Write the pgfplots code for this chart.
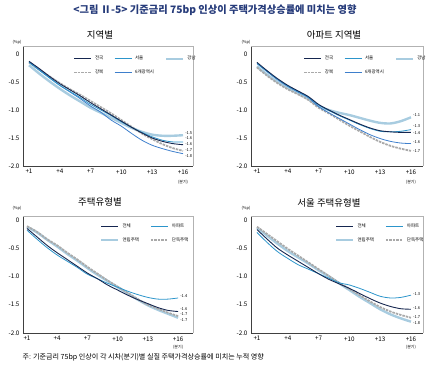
\documentclass[border=0pt]{standalone}
\usepackage{fontspec}
\setmainfont{Noto Sans CJK KR}
\usepackage{pgfplots}
\pgfplotsset{compat=1.18}
\definecolor{cnavy}{HTML}{15264F}
\definecolor{cseoul}{HTML}{2C95CB}
\definecolor{clight}{HTML}{A8CCE0}
\definecolor{cgray}{HTML}{A9A9A9}
\definecolor{csix}{HTML}{3E7FCC}
\definecolor{ctitle}{HTML}{263B7A}
\tikzset{endlab/.style={font=\fontsize{4}{4.5}\selectfont, anchor=west, inner sep=0.5pt}}
\pgfplotsset{
  panel/.style={scale only axis, anchor=south west, axis lines=left,
    axis line style={-, black!75, line width=0.5pt},
    xtick={1,4,7,10,13,16}, xticklabels={+1,+4,+7,+10,+13,+16},
    ytick={-2,-1.5,-1,-0.5,0}, yticklabels={-2.0,-1.5,-1.0,-0.5,0},
    ymin=-2, major tick length=0pt,
    tick label style={font=\fontsize{6.3}{7}\selectfont},
    /pgf/number format/assume math mode=true,
    clip=false, legend cell align=left,
    legend style={draw=none, fill=none, inner sep=0pt, row sep=4.5bp,
      font=\fontsize{4.5}{5}\selectfont,
      /tikz/every even column/.append style={column sep=9bp},
      /tikz/every odd column/.append style={column sep=1bp}},
    legend image code/.code={\draw[##1] (0bp,0bp) -- (17bp,0bp);},
    after end axis/.code={\draw[black!30, line width=0.4pt] (rel axis cs:0,1) -- (rel axis cs:1,1) -- (rel axis cs:1,0);},
  },
  s1/.style={cnavy, line width=0.9pt, smooth, no marks},
  s2/.style={cseoul, line width=0.8pt, smooth, no marks},
  s3/.style={clight, line width=2.4pt, smooth, no marks},
  s4/.style={cgray, line width=1.8pt, dash pattern=on 2.5pt off 1pt, smooth, no marks},
  s5/.style={csix, line width=0.8pt, smooth, no marks},
}
\begin{document}
\begin{tikzpicture}
\path[use as bounding box] (0,0) rectangle (428bp,-373bp);
\node[font=\fontsize{10.3}{12}\selectfont\bfseries, text=ctitle] at (215bp,-10bp) {<그림 Ⅱ-5> 기준금리 75bp 인상이 주택가격상승률에 미치는 영향};

% ---------- Panel 1 ----------
\node[font=\fontsize{9.5}{11}\selectfont] at (100bp,-35bp) {지역별};
\node[font=\fontsize{4}{5}\selectfont] at (17bp,-42bp) {(\%p)};
\begin{axis}[panel, at={(23bp,-166bp)}, width=170bp, height=120bp,
  xmin=0.416, xmax=16.97, ymax=0.143,
  legend columns=3, legend style={at={(axis cs:5.29,0.0)}, anchor=north west}]
\addplot[s3, forget plot] coordinates {(1,-0.20)(2,-0.35)(3,-0.49)(4,-0.62)(5,-0.74)(6,-0.85)(7,-0.96)(8,-1.05)(9,-1.14)(10,-1.23)(11,-1.32)(12,-1.39)(13,-1.44)(14,-1.46)(15,-1.46)(16,-1.45)};
\addplot[s4, forget plot] coordinates {(1,-0.15)(2,-0.28)(3,-0.40)(4,-0.52)(5,-0.63)(6,-0.73)(7,-0.84)(8,-0.95)(9,-1.06)(10,-1.18)(11,-1.30)(12,-1.42)(13,-1.52)(14,-1.61)(15,-1.68)(16,-1.73)};
\addplot[s5, forget plot] coordinates {(1,-0.14)(2,-0.28)(3,-0.42)(4,-0.56)(5,-0.68)(6,-0.80)(7,-0.93)(8,-1.04)(9,-1.18)(10,-1.29)(11,-1.42)(12,-1.54)(13,-1.63)(14,-1.69)(15,-1.74)(16,-1.78)};
\addplot[s2, forget plot] coordinates {(1,-0.15)(2,-0.29)(3,-0.43)(4,-0.56)(5,-0.67)(6,-0.78)(7,-0.90)(8,-1.00)(9,-1.10)(10,-1.21)(11,-1.31)(12,-1.40)(13,-1.48)(14,-1.54)(15,-1.57)(16,-1.57)};
\addplot[s1, forget plot] coordinates {(1,-0.13)(2,-0.26)(3,-0.40)(4,-0.53)(5,-0.64)(6,-0.75)(7,-0.87)(8,-0.98)(9,-1.09)(10,-1.20)(11,-1.31)(12,-1.41)(13,-1.50)(14,-1.56)(15,-1.60)(16,-1.62)};
\addlegendimage{s1}\addlegendentry{전국}
\addlegendimage{s2}\addlegendentry{서울}
\addlegendimage{s3}\addlegendentry{강남}
\addlegendimage{s4}\addlegendentry{강북}
\addlegendimage{s5}\addlegendentry{6개광역시}
\node[endlab] at (axis cs:16.15,-1.41) {-1.5};
\node[endlab] at (axis cs:16.15,-1.51) {-1.6};
\node[endlab] at (axis cs:16.15,-1.60) {-1.6};
\node[endlab] at (axis cs:16.15,-1.72) {-1.7};
\node[endlab] at (axis cs:16.15,-1.83) {-1.8};
\node[font=\fontsize{4}{5}\selectfont] at (axis cs:16,-2) [yshift=-16bp] {(분기)};
\end{axis}

% ---------- Panel 2 ----------
\node[font=\fontsize{9.5}{11}\selectfont] at (334bp,-35bp) {아파트 지역별};
\node[font=\fontsize{4}{5}\selectfont] at (246bp,-42bp) {(\%p)};
\begin{axis}[panel, at={(251bp,-166bp)}, width=172bp, height=120bp,
  xmin=0.416, xmax=17.17, ymax=0.143,
  legend columns=3, legend style={at={(axis cs:5.48,0.0)}, anchor=north west}]
\addplot[s3, forget plot] coordinates {(1,-0.22)(2,-0.37)(3,-0.50)(4,-0.61)(5,-0.70)(6,-0.80)(7,-0.93)(8,-1.00)(9,-1.05)(10,-1.09)(11,-1.14)(12,-1.19)(13,-1.23)(14,-1.24)(15,-1.20)(16,-1.13)};
\addplot[s4, forget plot] coordinates {(1,-0.24)(2,-0.39)(3,-0.52)(4,-0.63)(5,-0.72)(6,-0.82)(7,-0.96)(8,-1.06)(9,-1.17)(10,-1.28)(11,-1.38)(12,-1.48)(13,-1.57)(14,-1.64)(15,-1.69)(16,-1.73)};
\addplot[s5, forget plot] coordinates {(1,-0.17)(2,-0.32)(3,-0.46)(4,-0.58)(5,-0.68)(6,-0.78)(7,-0.94)(8,-1.05)(9,-1.15)(10,-1.25)(11,-1.35)(12,-1.44)(13,-1.51)(14,-1.56)(15,-1.59)(16,-1.60)};
\addplot[s2, forget plot] coordinates {(1,-0.17)(2,-0.31)(3,-0.45)(4,-0.57)(5,-0.67)(6,-0.77)(7,-0.91)(8,-1.01)(9,-1.10)(10,-1.18)(11,-1.26)(12,-1.33)(13,-1.38)(14,-1.39)(15,-1.38)(16,-1.35)};
\addplot[s1, forget plot] coordinates {(1,-0.15)(2,-0.30)(3,-0.44)(4,-0.56)(5,-0.66)(6,-0.76)(7,-0.90)(8,-1.00)(9,-1.09)(10,-1.17)(11,-1.25)(12,-1.32)(13,-1.37)(14,-1.39)(15,-1.40)(16,-1.40)};
\addlegendimage{s1}\addlegendentry{전국}
\addlegendimage{s2}\addlegendentry{서울}
\addlegendimage{s3}\addlegendentry{강남}
\addlegendimage{s4}\addlegendentry{강북}
\addlegendimage{s5}\addlegendentry{6개광역시}
\node[endlab] at (axis cs:16.15,-1.09) {-1.1};
\node[endlab] at (axis cs:16.15,-1.29) {-1.3};
\node[endlab] at (axis cs:16.15,-1.42) {-1.4};
\node[endlab] at (axis cs:16.15,-1.57) {-1.6};
\node[endlab] at (axis cs:16.15,-1.74) {-1.7};
\node[font=\fontsize{4}{5}\selectfont] at (axis cs:16,-2) [yshift=-16bp] {(분기)};
\end{axis}

% ---------- Panel 3 ----------
\node[font=\fontsize{9.5}{11}\selectfont] at (100bp,-202bp) {주택유형별};
\node[font=\fontsize{4}{5}\selectfont] at (17bp,-208bp) {(\%p)};
\begin{axis}[panel, at={(23bp,-333bp)}, width=170bp, height=117bp,
  xmin=0.603, xmax=17.48, ymax=0.071,
  legend columns=2, legend style={at={(axis cs:8.25,-0.03)}, anchor=north west}]
\addplot[s3, forget plot] coordinates {(1,-0.12)(2,-0.22)(3,-0.35)(4,-0.47)(5,-0.60)(6,-0.72)(7,-0.85)(8,-0.97)(9,-1.08)(10,-1.19)(11,-1.30)(12,-1.41)(13,-1.51)(14,-1.59)(15,-1.66)(16,-1.73)};
\addplot[s4, forget plot] coordinates {(1,-0.11)(2,-0.21)(3,-0.34)(4,-0.45)(5,-0.58)(6,-0.70)(7,-0.83)(8,-0.95)(9,-1.07)(10,-1.18)(11,-1.29)(12,-1.40)(13,-1.50)(14,-1.57)(15,-1.64)(16,-1.70)};
\addplot[s2, forget plot] coordinates {(1,-0.18)(2,-0.34)(3,-0.49)(4,-0.62)(5,-0.73)(6,-0.84)(7,-0.96)(8,-1.04)(9,-1.12)(10,-1.19)(11,-1.26)(12,-1.32)(13,-1.37)(14,-1.40)(15,-1.40)(16,-1.38)};
\addplot[s1, forget plot] coordinates {(1,-0.15)(2,-0.30)(3,-0.45)(4,-0.58)(5,-0.70)(6,-0.82)(7,-0.94)(8,-1.04)(9,-1.15)(10,-1.24)(11,-1.33)(12,-1.41)(13,-1.48)(14,-1.55)(15,-1.60)(16,-1.62)};
\addlegendimage{s1}\addlegendentry{전체}
\addlegendimage{s2}\addlegendentry{아파트}
\addlegendimage{s3}\addlegendentry{연립주택}
\addlegendimage{s4}\addlegendentry{단독주택}
\node[endlab] at (axis cs:16.15,-1.35) {-1.4};
\node[endlab] at (axis cs:16.15,-1.57) {-1.6};
\node[endlab] at (axis cs:16.15,-1.66) {-1.7};
\node[endlab] at (axis cs:16.15,-1.78) {-1.7};
\node[font=\fontsize{4}{5}\selectfont] at (axis cs:16,-2) [yshift=-14bp] {(분기)};
\end{axis}

% ---------- Panel 4 ----------
\node[font=\fontsize{9.5}{11}\selectfont] at (329bp,-203bp) {서울 주택유형별};
\node[font=\fontsize{4}{5}\selectfont] at (246bp,-208bp) {(\%p)};
\begin{axis}[panel, at={(251bp,-333bp)}, width=172bp, height=117bp,
  xmin=0.416, xmax=17.17, ymax=0.071,
  legend columns=2, legend style={at={(axis cs:8.6,-0.03)}, anchor=north west}]
\addplot[s3, forget plot] coordinates {(1,-0.14)(2,-0.28)(3,-0.42)(4,-0.55)(5,-0.66)(6,-0.77)(7,-0.89)(8,-1.00)(9,-1.12)(10,-1.24)(11,-1.36)(12,-1.47)(13,-1.58)(14,-1.67)(15,-1.74)(16,-1.80)};
\addplot[s4, forget plot] coordinates {(1,-0.12)(2,-0.25)(3,-0.38)(4,-0.51)(5,-0.63)(6,-0.75)(7,-0.87)(8,-0.99)(9,-1.11)(10,-1.22)(11,-1.33)(12,-1.44)(13,-1.54)(14,-1.62)(15,-1.68)(16,-1.73)};
\addplot[s2, forget plot] coordinates {(1,-0.22)(2,-0.40)(3,-0.56)(4,-0.68)(5,-0.79)(6,-0.87)(7,-0.95)(8,-1.03)(9,-1.11)(10,-1.15)(11,-1.21)(12,-1.28)(13,-1.35)(14,-1.38)(15,-1.37)(16,-1.33)};
\addplot[s1, forget plot] coordinates {(1,-0.17)(2,-0.34)(3,-0.50)(4,-0.62)(5,-0.73)(6,-0.84)(7,-0.95)(8,-1.05)(9,-1.13)(10,-1.21)(11,-1.30)(12,-1.39)(13,-1.47)(14,-1.53)(15,-1.57)(16,-1.58)};
\addlegendimage{s1}\addlegendentry{전체}
\addlegendimage{s2}\addlegendentry{아파트}
\addlegendimage{s3}\addlegendentry{연립주택}
\addlegendimage{s4}\addlegendentry{단독주택}
\node[endlab] at (axis cs:16.15,-1.31) {-1.3};
\node[endlab] at (axis cs:16.15,-1.56) {-1.6};
\node[endlab] at (axis cs:16.15,-1.72) {-1.7};
\node[endlab] at (axis cs:16.15,-1.83) {-1.8};
\node[font=\fontsize{4}{5}\selectfont] at (axis cs:16,-2) [yshift=-14bp] {(분기)};
\end{axis}

\node[font=\fontsize{7.1}{8}\selectfont, anchor=west] at (19bp,-357bp) {주: 기준금리 75bp 인상이 각 시차(분기)별 실질 주택가격상승률에 미치는 누적 영향};
\end{tikzpicture}
\end{document}
